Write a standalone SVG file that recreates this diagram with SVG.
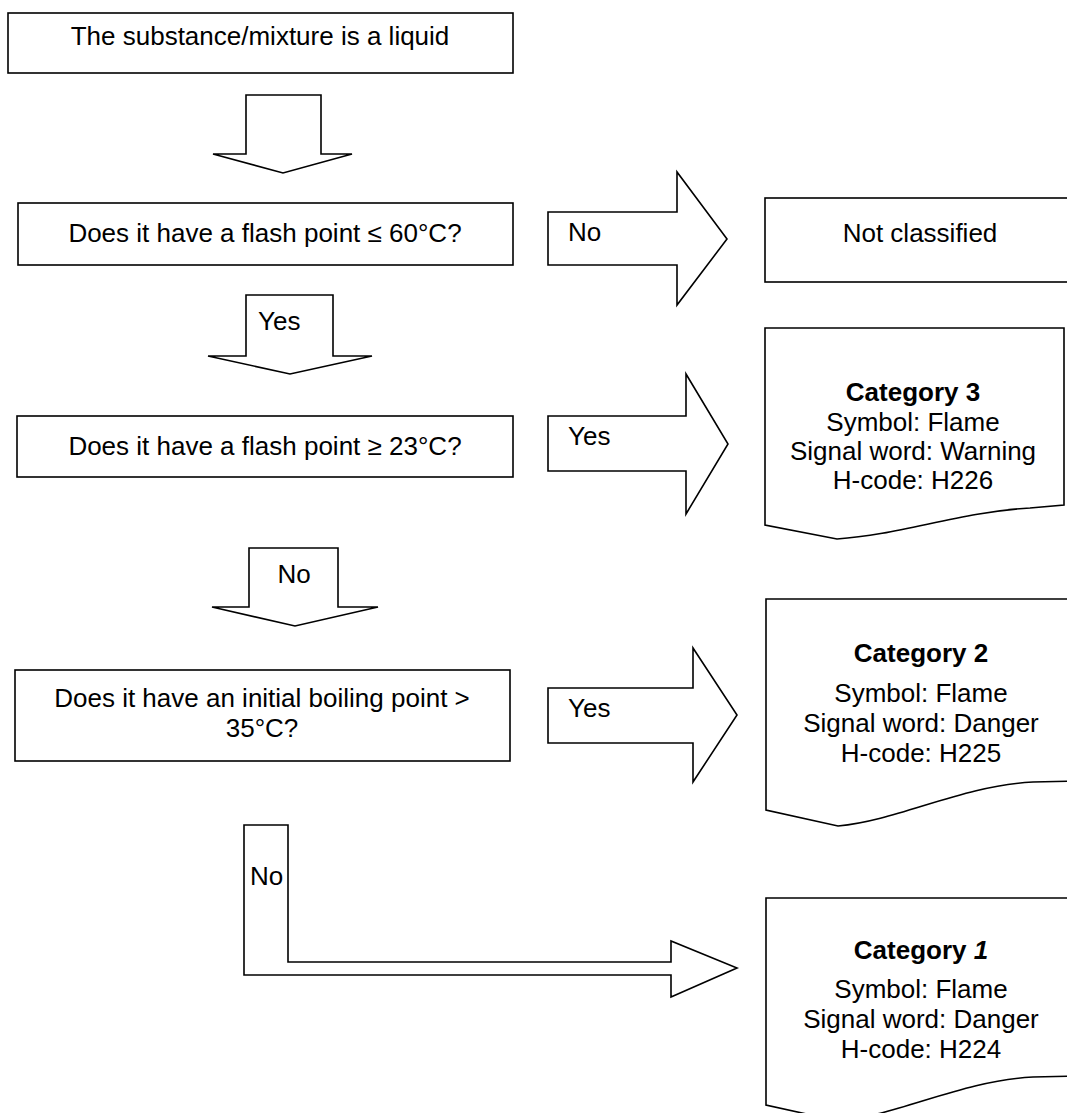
<svg xmlns="http://www.w3.org/2000/svg" width="1067" height="1113" viewBox="0 0 1067 1113">
<style>
.s{fill:#fff;stroke:#000;stroke-width:1.6;stroke-linejoin:miter}
text{font-family:"Liberation Sans",Arial,sans-serif;font-size:26px;fill:#000}
.c{text-anchor:middle}
.b{font-weight:bold}
</style>
<rect width="1067" height="1113" fill="#fff"/>
<g id="connectors">
<path class="s" d="M246,95 H321 V154 H352 L283,173 L213,154 H246 Z"/>
<g id="c-yes1"><path class="s" d="M246,295 H333 V356 H372 L290,374 L208,356 H246 Z"/><text x="258" y="330">Yes</text></g>
<g id="c-no2"><path class="s" d="M249,548 H338 V607 H378 L295,626 L212,607 H249 Z"/><text class="c" x="294" y="583">No</text></g>
<g id="c-no1"><path class="s" d="M548,212 H677 V172 L727,239 L677,305 V265 H548 Z"/><text x="568" y="241">No</text></g>
<g id="c-yes2"><path class="s" d="M548,416 H686 V374 L728,444 L686,514 V471 H548 Z"/><text x="568" y="445">Yes</text></g>
<g id="c-yes3"><path class="s" d="M548,688 H693 V648 L737,715 L693,782 V743 H548 Z"/><text x="568" y="717">Yes</text></g>
<g id="c-no3"><path class="s" d="M244,825 H288 V962 H671 V941 L737,968 L671,997 V975 H244 Z"/><text x="250" y="885">No</text></g>
</g>
<g id="n-liquid"><rect class="s" x="8" y="13" width="505" height="60"/><text class="c" x="260" y="45">The substance/mixture is a liquid</text></g>
<g id="n-q60"><rect class="s" x="18" y="203" width="495" height="62"/><text class="c" x="265" y="242">Does it have a flash point ≤ 60°C?</text></g>
<g id="n-q23"><rect class="s" x="17" y="416" width="496" height="61"/><text class="c" x="265" y="455">Does it have a flash point ≥ 23°C?</text></g>
<g id="n-q35"><rect class="s" x="15" y="670" width="495" height="91"/><text class="c" x="262" y="707">Does it have an initial boiling point &gt;</text><text class="c" x="262" y="737">35°C?</text></g>
<g id="n-notclass"><rect class="s" x="765" y="198" width="312" height="84"/><text class="c" x="920" y="242">Not classified</text></g>
<g id="n-cat3"><path class="s" d="M765,328 H1064 V505 L1030,508 C960,512 900,535 837,539 L765,525 Z"/>
<text class="c b" x="913" y="401">Category 3</text>
<text class="c" x="913" y="431">Symbol: Flame</text>
<text class="c" x="913" y="460">Signal word: Warning</text>
<text class="c" x="913" y="489">H-code: H226</text></g>
<g id="n-cat2"><path class="s" d="M766,599 H1078 V781 L1033,782 C960,786 900,820 838,826 L766,810 Z"/>
<text class="c b" x="921" y="662">Category 2</text>
<text class="c" x="921" y="702">Symbol: Flame</text>
<text class="c" x="921" y="732">Signal word: Danger</text>
<text class="c" x="921" y="762">H-code: H225</text></g>
<g id="n-cat1"><path class="s" d="M766,898 H1078 V1076 L1033,1077 C960,1081 900,1115 838,1121 L766,1105 Z"/>
<text class="c b" x="921" y="959">Category <tspan font-style="italic">1</tspan></text>
<text class="c" x="921" y="998">Symbol: Flame</text>
<text class="c" x="921" y="1028">Signal word: Danger</text>
<text class="c" x="921" y="1058">H-code: H224</text></g>
</svg>
